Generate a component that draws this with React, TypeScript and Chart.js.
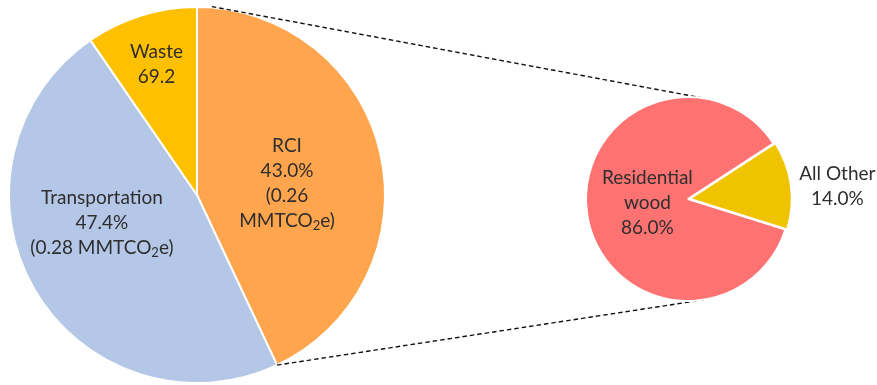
import React, { useEffect, useRef } from "react";
import { Chart, registerables } from "chart.js";

Chart.register(...registerables);

// Statewide gross emissions by sector (share of total, %)
const sectors = ["RCI", "Transportation", "Waste"];
const sectorShares = [43.0, 47.4, 9.6];
// Absolute emissions in MMTCO2e, where reported
const sectorEmissions: (number | null)[] = [0.26, 0.28, null];
// Waste is reported as a stand-alone figure
const sectorFigures: (string | null)[] = [null, null, "69.2"];

// Breakdown of the RCI sector (share of RCI, %)
const rciSources = ["Residential wood", "All Other"];
const rciShares = [86.0, 14.0];

const sectorColors = ["#FFA54D", "#B4C7E7", "#FFC000"];
const rciColors = ["#FF7272", "#F0C300"];

const W = 877;
const H = 385;
const FONT = "Lato, 'Liberation Sans', sans-serif";
const FONT_SIZE = 19;
const LINE_H = 25;
const TEXT_COLOR = "#2e2e2e";

// Label placement relative to each slice: angular nudge (deg) from the
// slice's mid-angle, distance as a fraction of the radius, wrap width (px)
const sectorLabelPlacement = [
  { turn: 5, dist: 0.483, wrap: 100 },
  { turn: 13.5, dist: 0.527, wrap: 240 },
  { turn: 0, dist: 0.725, wrap: 240 },
];
const rciLabelPlacement = [
  { turn: 2.6, dist: 0.4, wrap: 110 },
  { turn: 2.8, dist: 1.47, wrap: 240 },
];

type Seg = { t: string; sub: boolean };

function parseRich(s: string): Seg[] {
  const out: Seg[] = [];
  const re = /\{([^}]*)\}/g;
  let last = 0;
  let m: RegExpExecArray | null;
  while ((m = re.exec(s))) {
    if (m.index > last) out.push({ t: s.slice(last, m.index), sub: false });
    out.push({ t: m[1], sub: true });
    last = m.index + m[0].length;
  }
  if (last < s.length) out.push({ t: s.slice(last), sub: false });
  return out;
}

const mainFont = `${FONT_SIZE}px ${FONT}`;
const subFont = `${Math.round(FONT_SIZE * 0.68)}px ${FONT}`;

function segWidth(ctx: CanvasRenderingContext2D, segs: Seg[]) {
  let w = 0;
  for (const s of segs) {
    ctx.font = s.sub ? subFont : mainFont;
    w += ctx.measureText(s.t).width;
  }
  return w;
}

function wrapLine(ctx: CanvasRenderingContext2D, line: string, maxW: number): string[] {
  const words = line.split(" ");
  const lines: string[] = [];
  let cur = "";
  for (const w of words) {
    const test = cur ? cur + " " + w : w;
    if (cur && segWidth(ctx, parseRich(test)) > maxW) {
      lines.push(cur);
      cur = w;
    } else {
      cur = test;
    }
  }
  if (cur) lines.push(cur);
  return lines;
}

function drawBlock(ctx: CanvasRenderingContext2D, lines: string[], cx: number, cy: number) {
  ctx.save();
  ctx.fillStyle = TEXT_COLOR;
  ctx.textAlign = "left";
  ctx.textBaseline = "middle";
  const y0 = cy - ((lines.length - 1) * LINE_H) / 2;
  lines.forEach((ln, i) => {
    const segs = parseRich(ln);
    let x = cx - segWidth(ctx, segs) / 2;
    const y = y0 + i * LINE_H;
    for (const s of segs) {
      ctx.font = s.sub ? subFont : mainFont;
      ctx.fillText(s.t, x, s.sub ? y + 5 : y);
      x += ctx.measureText(s.t).width;
    }
  });
  ctx.restore();
}

function pct(v: number) {
  return v.toFixed(1) + "%";
}

function sectorText(i: number): string[] {
  const lines = [sectors[i]];
  if (sectorFigures[i] != null) lines.push(sectorFigures[i] as string);
  else lines.push(pct(sectorShares[i]));
  const e = sectorEmissions[i];
  if (e != null) lines.push(`(${e.toFixed(2)} MMTCO{2}e)`);
  return lines;
}

function rciText(i: number): string[] {
  return [rciSources[i], pct(rciShares[i])];
}

function labelPlugin(
  id: string,
  textFor: (i: number) => string[],
  placement: { turn: number; dist: number; wrap: number }[]
) {
  return {
    id,
    afterDraw(chart: any) {
      const ctx: CanvasRenderingContext2D = chart.ctx;
      const arcs = chart.getDatasetMeta(0).data;
      arcs.forEach((arc: any, i: number) => {
        const p = placement[i];
        const mid = (arc.startAngle + arc.endAngle) / 2 + (p.turn * Math.PI) / 180;
        const r = arc.outerRadius * p.dist;
        const cx = arc.x + Math.cos(mid) * r;
        const cy = arc.y + Math.sin(mid) * r;
        const lines: string[] = [];
        for (const l of textFor(i)) lines.push(...wrapLine(ctx, l, p.wrap));
        drawBlock(ctx, lines, cx, cy);
      });
    },
  };
}

export default function App() {
  const baseRef = useRef<HTMLCanvasElement>(null);
  const topRef = useRef<HTMLCanvasElement>(null);

  useEffect(() => {
    if (!baseRef.current || !topRef.current) return;

    // Secondary pie: RCI breakdown, drawn on the upper canvas
    const rciChart = new Chart(topRef.current, {
      type: "pie",
      data: {
        labels: rciSources,
        datasets: [
          {
            data: rciShares,
            backgroundColor: rciColors,
            borderColor: "#ffffff",
            borderWidth: 2,
            offset: [0, 6],
            radius: 102,
            rotation: 107.4,
          } as any,
        ],
      },
      options: {
        responsive: false,
        animation: false,
        events: [],
        layout: { padding: { left: 508, right: 9, top: 13, bottom: 0 } },
        plugins: { legend: { display: false }, tooltip: { enabled: false } },
      },
      plugins: [labelPlugin("rciLabels", rciText, rciLabelPlacement)],
    });

    // Connector lines from the RCI slice to the breakdown pie
    const connectors = {
      id: "connectors",
      afterDraw(chart: any) {
        const ctx: CanvasRenderingContext2D = chart.ctx;
        const rci = chart.getDatasetMeta(0).data[0] as any;
        const small = rciChart.getDatasetMeta(0).data[0] as any;
        const c2x = small.x;
        const c2y = small.y;
        const r2 = small.outerRadius;
        const tangentFrom = (px: number, py: number, upper: boolean) => {
          const dx = c2x - px;
          const dy = c2y - py;
          const L = Math.hypot(dx, dy);
          const base = Math.atan2(dy, dx);
          const half = Math.asin(r2 / L);
          const a = upper ? base - half : base + half;
          const t = Math.sqrt(L * L - r2 * r2);
          return [px + Math.cos(a) * t, py + Math.sin(a) * t];
        };
        const r1 = rci.outerRadius + 1;
        const aTop = rci.startAngle + (4.5 * Math.PI) / 180;
        const p1 = [rci.x + Math.cos(aTop) * r1, rci.y + Math.sin(aTop) * r1];
        const p2 = [rci.x + Math.cos(rci.endAngle) * rci.outerRadius, rci.y + Math.sin(rci.endAngle) * rci.outerRadius];
        const e1 = tangentFrom(p1[0], p1[1], true);
        const e2 = tangentFrom(p2[0], p2[1], false);
        ctx.save();
        ctx.strokeStyle = "#111111";
        ctx.lineWidth = 1.4;
        ctx.setLineDash([4.5, 3]);
        ctx.beginPath();
        ctx.moveTo(p1[0], p1[1]);
        ctx.lineTo(e1[0], e1[1]);
        ctx.moveTo(p2[0], p2[1]);
        ctx.lineTo(e2[0], e2[1]);
        ctx.stroke();
        ctx.restore();
      },
    };

    // Primary pie: sectors
    const mainChart = new Chart(baseRef.current, {
      type: "pie",
      data: {
        labels: sectors,
        datasets: [
          {
            data: sectorShares,
            backgroundColor: sectorColors,
            borderColor: "#ffffff",
            borderWidth: 2,
            radius: 188,
          } as any,
        ],
      },
      options: {
        responsive: false,
        animation: false,
        events: [],
        layout: { padding: { left: 0, right: 483, top: 5, bottom: 0 } },
        plugins: { legend: { display: false }, tooltip: { enabled: false } },
      },
      plugins: [connectors, labelPlugin("sectorLabels", sectorText, sectorLabelPlacement)],
    });

    return () => {
      mainChart.destroy();
      rciChart.destroy();
    };
  }, []);

  const canvasStyle: React.CSSProperties = {
    position: "absolute",
    left: 0,
    top: 0,
    width: W,
    height: H,
  };

  return (
    <div style={{ position: "absolute", left: 0, top: 0, width: W, height: H, background: "#ffffff" }}>
      <canvas ref={baseRef} width={W} height={H} style={canvasStyle} />
      <canvas ref={topRef} width={W} height={H} style={{ ...canvasStyle, pointerEvents: "none" }} />
    </div>
  );
}
